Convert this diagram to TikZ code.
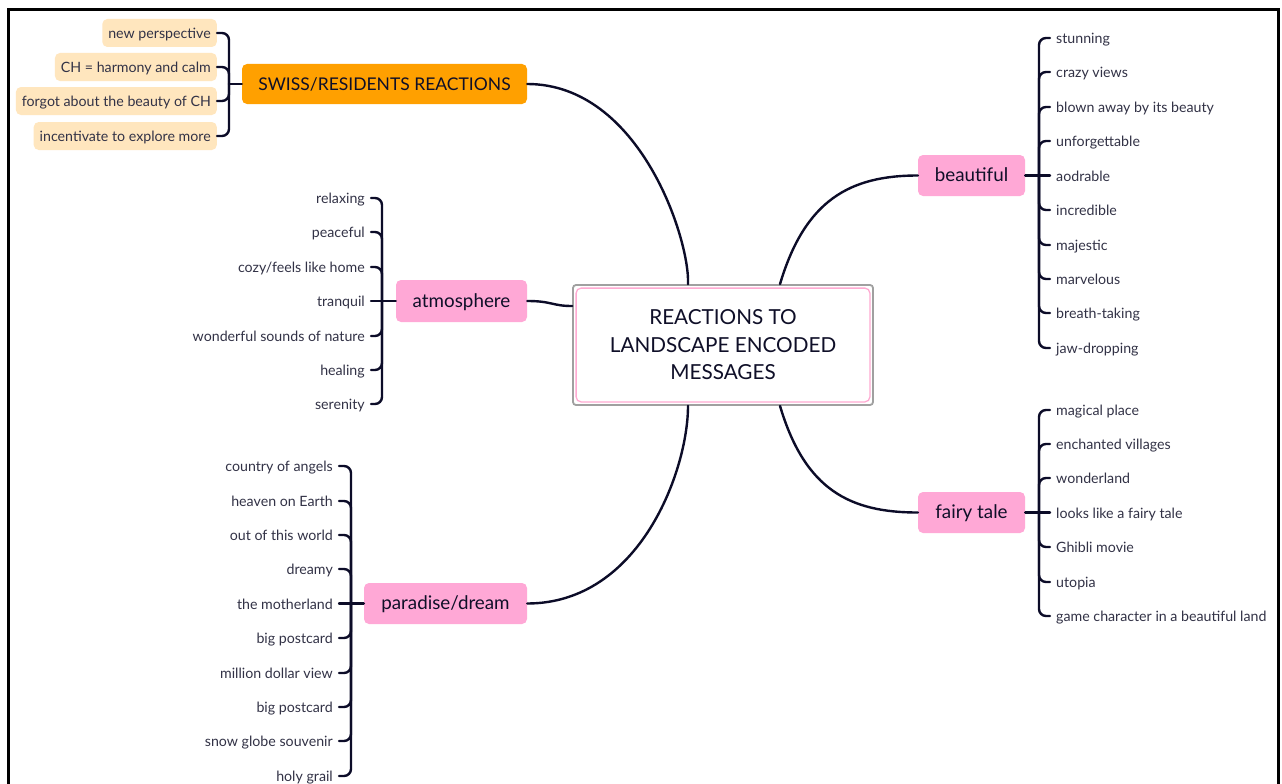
\documentclass[tikz,border=0pt]{standalone}
\usepackage{fontspec}
\setmainfont{Lato}
\definecolor{linecol}{RGB}{12,12,40}
\definecolor{pinkfill}{RGB}{255,168,214}
\definecolor{pinkbd}{RGB}{255,170,210}
\definecolor{orangefill}{RGB}{255,160,0}
\definecolor{beige}{RGB}{255,230,190}
\definecolor{itemtext}{RGB}{50,50,70}
\definecolor{nodetext}{RGB}{15,15,40}
\definecolor{graybd}{RGB}{160,160,160}
\newcommand\itemfont{\fontsize{14.2}{16}\selectfont}
\newcommand\topicfont{\fontsize{18.8}{22}\selectfont}
\newcommand\swissfont{\fontsize{17.5}{20}\selectfont}
\newcommand\centrefont{\fontsize{20.7}{27.5}\selectfont}
\tikzset{
  link/.style={draw=linecol, line width=2.4pt, line cap=round},
  hook/.style={link, rounded corners=7pt},
  ritem/.style={anchor=west, font=\itemfont, text=itemtext, inner xsep=6pt,
    inner ysep=0pt, text height=13.5pt, text depth=2.5pt},
  litem/.style={ritem, anchor=east},
  tagitem/.style={litem, fill=beige, rounded corners=5pt, inner ysep=6pt},
  topic/.style={fill=pinkfill, rounded corners=5pt, font=\topicfont, text=nodetext,
    minimum height=41pt, inner sep=0pt, text height=13.5pt, text depth=1pt},
  centre/.style={draw=graybd, line width=1.8pt, rounded corners=3pt, fill=white,
    minimum width=300pt, minimum height=120pt, align=center, font=\centrefont,
    text=nodetext, inner sep=0pt}
}
\begin{document}
\begin{tikzpicture}[x=1pt,y=-1pt]
\useasboundingbox (0,0) rectangle (1282,784);
\fill[white] (0,0) rectangle (1282,784);
% outer frame (open at the bottom)
\draw[line width=3pt, line join=miter] (8,784) -- (8,10) -- (1278.5,10) -- (1278.5,784);

% central topic
\node[centre] (c) at (723,345) {REACTIONS TO\\LANDSCAPE ENCODED\\MESSAGES};
\draw[pinkbd, line width=1.3pt, rounded corners=5pt]
  ([shift={(4,4)}]c.north west) rectangle ([shift={(-4,-4)}]c.south east);

% main topics
\node[topic, fill=orangefill, minimum width=285pt, minimum height=40pt, font=\swissfont] (swiss) at (384.5,84) {SWISS/RESIDENTS REACTIONS};
\node[topic, minimum width=131pt, minimum height=42pt] (atm) at (461.5,301) {atmosphere};
\node[topic, minimum width=163pt] (par) at (445.5,603.5) {paradise/dream};
\node[topic, minimum width=107pt] (bea) at (971.5,175.5) {beautiful};
\node[topic, minimum width=107pt] (fai) at (971.5,512.5) {fairy tale};

% branches from the centre
\draw[link] (swiss.east) .. controls (640,84) and (690,240) .. ([xshift=-35pt]c.north);
\draw[link] (atm.east) .. controls (552,301) and (552,306) .. ([yshift=39pt]c.west);
\draw[link] (par.east) .. controls (640,603.5) and (688,470) .. ([xshift=-35pt]c.south);
\draw[link] ([xshift=57pt]c.north) .. controls (805,200) and (850,175.5) .. (bea.west);
\draw[link] ([xshift=57pt]c.south) .. controls (805,490) and (850,512.5) .. (fai.west);

% beautiful
\coordinate (bj) at (1039,175.5);
\draw[link] (bea.east) -- (bj);
\foreach \t/\y [count=\i] in {stunning/38, crazy views/72, blown away by its beauty/107,
  unforgettable/141, aodrable/175.5, incredible/210, majestic/245, marvelous/279,
  breath-taking/313, jaw-dropping/348}{
  \node[ritem] (bea\i) at (1050,\y) {\t};
  \ifnum\i=5 \draw[link] (bj) -- (bea\i.west); \else \draw[hook] (bj) |- (bea\i.west); \fi
}

% fairy tale
\coordinate (fj) at (1039,512.5);
\draw[link] (fai.east) -- (fj);
\foreach \t/\y [count=\i] in {magical place/410, enchanted villages/444, wonderland/478,
  looks like a fairy tale/512.5, Ghibli movie/547, utopia/582,
  game character in a beautiful land/616}{
  \node[ritem] (fai\i) at (1050,\y) {\t};
  \ifnum\i=4 \draw[link] (fj) -- (fai\i.west); \else \draw[hook] (fj) |- (fai\i.west); \fi
}

% atmosphere
\coordinate (aj) at (382,301);
\draw[link] (atm.west) -- (aj);
\foreach \t/\y [count=\i] in {relaxing/198, peaceful/232, {cozy/feels like home}/267,
  tranquil/301, wonderful sounds of nature/336, healing/370, serenity/404}{
  \node[litem] (atm\i) at (371,\y) {\t};
  \ifnum\i=4 \draw[link] (aj) -- (atm\i.east); \else \draw[hook] (aj) |- (atm\i.east); \fi
}

% paradise/dream
\coordinate (pj) at (351,603.5);
\draw[link] (par.west) -- (pj);
\foreach \t/\y [count=\i] in {country of angels/466, heaven on Earth/501,
  out of this world/535, dreamy/569, the motherland/603.5, big postcard/638,
  million dollar view/673, big postcard/707, snow globe souvenir/741, holy grail/776}{
  \node[litem] (par\i) at (339,\y) {\t};
  \ifnum\i=5 \draw[link] (pj) -- (par\i.east); \else \draw[hook] (pj) |- (par\i.east); \fi
}

% swiss/residents reactions
\coordinate (sj) at (229,84);
\draw[link] (swiss.west) -- (sj);
\foreach \t/\y [count=\i] in {new perspective/33, CH = harmony and calm/67,
  forgot about the beauty of CH/101, incentivate to explore more/136}{
  \node[tagitem] (sw\i) at (217,\y) {\t};
  \draw[hook] (sj) |- (sw\i.east);
}
\end{tikzpicture}
\end{document}
